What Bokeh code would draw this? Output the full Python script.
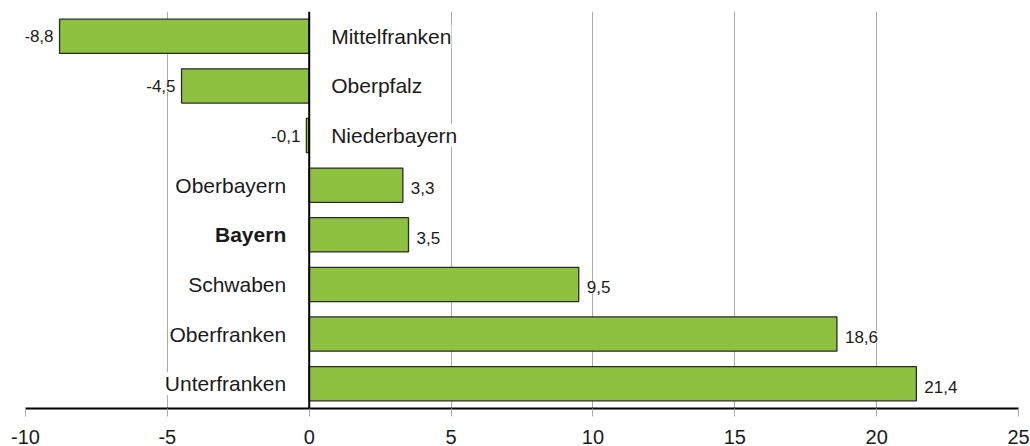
from bokeh.plotting import figure
from bokeh.models import ColumnDataSource, LabelSet, FixedTicker, Span
from bokeh.core.properties import field, value
from bokeh.embed import file_html
from bokeh.resources import INLINE

categories = ["Mittelfranken", "Oberpfalz", "Niederbayern", "Oberbayern",
              "Bayern", "Schwaben", "Oberfranken", "Unterfranken"]
values = [-8.8, -4.5, -0.1, 3.3, 3.5, 9.5, 18.6, 21.4]
ticks = [-10, -5, 0, 5, 10, 15, 20, 25]
tick_labels = ["-10", "-5", "0", "5", "10", "15", "20", "25"]
bold_category = "Bayern"

n = len(categories)
ypos = [n - 1 - i for i in range(n)]
FONT = "Liberation Sans"

neg = dict(y=[], v=[], cat=[], vl=[], st=[])
pos = dict(y=[], v=[], cat=[], vl=[], st=[])
for c, v, y in zip(categories, values, ypos):
    d = neg if v < 0 else pos
    d["y"].append(y)
    d["v"].append(v)
    d["cat"].append(c)
    d["vl"].append(("%.1f" % v).replace(".", ","))
    d["st"].append("bold" if c == bold_category else "normal")

src_all = ColumnDataSource(dict(y=ypos, v=values))
src_neg = ColumnDataSource(dict(neg, zero=[0] * len(neg["y"])))
src_pos = ColumnDataSource(dict(pos, zero=[0] * len(pos["y"])))

p = figure(width=1030, height=446, x_range=(-10, 25), y_range=(-0.5, n - 0.5),
           output_backend="svg", toolbar_location=None, y_axis_location=None,
           min_border_left=25, min_border_right=12, min_border_top=11,
           min_border_bottom=38)
p.outline_line_color = None
p.background_fill_color = "white"

p.hbar(y="y", right="v", left=0, height=0.69, source=src_all,
       fill_color="#8DC13F", line_color="#2b2b2b", line_width=1.3)

zero = Span(location=0, dimension="height", line_color="black", line_width=2)
p.add_layout(zero)

p.xgrid.ticker = FixedTicker(ticks=ticks)
p.xgrid.grid_line_color = "#aaaaaa"
p.xgrid.grid_line_width = 1
p.ygrid.grid_line_color = None

ax = p.xaxis[0]
ax.ticker = FixedTicker(ticks=ticks)
ax.major_label_overrides = {t: l for t, l in zip(ticks, tick_labels)}
ax.axis_line_color = "black"
ax.axis_line_width = 2
ax.major_tick_line_color = "#aaaaaa"
ax.major_tick_out = 8
ax.major_tick_in = 0
ax.minor_tick_line_color = None
ax.major_label_text_font = FONT
ax.major_label_text_font_size = "20px"
ax.major_label_text_color = "#1a1a1a"
ax.major_label_standoff = 13

common = dict(text_font=value(FONT), text_baseline="middle", text_color="#1a1a1a",
              background_fill_color="white")

# category labels
p.add_layout(LabelSet(x="zero", y="y", text="cat", source=src_neg, x_offset=22,
                      text_align="left", text_font_size="21px",
                      text_font_style=field("st"), **common))
p.add_layout(LabelSet(x="zero", y="y", text="cat", source=src_pos, x_offset=-23,
                      text_align="right", text_font_size="21px",
                      text_font_style=field("st"), **common))
# value labels
p.add_layout(LabelSet(x="v", y="y", text="vl", source=src_neg, x_offset=-6,
                      text_align="right", text_font_size="17px", **common))
p.add_layout(LabelSet(x="v", y="y", text="vl", source=src_pos, x_offset=8,
                      text_align="left", text_font_size="17px", y_offset=-3,
                      **common))

open("out.html", "w").write(file_html(p, INLINE))
